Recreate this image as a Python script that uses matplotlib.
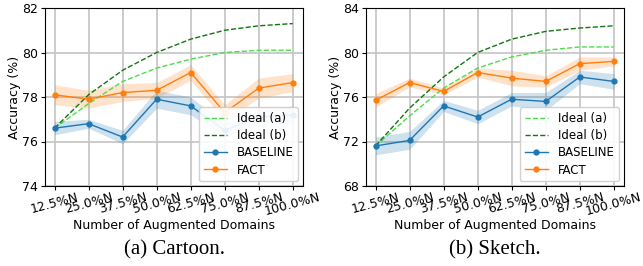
import matplotlib.pyplot as plt

labels = ["12.5%N", "25.0%N", "37.5%N", "50.0%N", "62.5%N", "75.0%N", "87.5%N", "100.0%N"]

# Cartoon
cartoon_base = [76.6, 76.8, 76.2, 77.9, 77.6, 76.5, 77.1, 77.2]
cartoon_base_std = [0.3, 0.2, 0.3, 0.4, 0.4, 0.3, 0.3, 0.4]
cartoon_fact = [78.1, 77.9, 78.2, 78.3, 79.1, 77.3, 78.4, 78.65]
cartoon_fact_std = [0.45, 0.4, 0.4, 0.35, 0.35, 0.35, 0.45, 0.4]
cartoon_ideal_a = [76.6, 77.7, 78.7, 79.3, 79.7, 80.0, 80.1, 80.1]
cartoon_ideal_b = [76.6, 78.1, 79.2, 80.0, 80.6, 81.0, 81.2, 81.3]

# Sketch
sketch_base = [71.6, 72.1, 75.2, 74.2, 75.8, 75.6, 77.8, 77.4]
sketch_base_std = [0.8, 0.8, 0.5, 0.6, 0.6, 0.8, 0.6, 0.7]
sketch_fact = [75.7, 77.3, 76.5, 78.2, 77.7, 77.4, 79.0, 79.2]
sketch_fact_std = [0.6, 0.4, 0.3, 0.4, 0.7, 0.5, 0.6, 0.4]
sketch_ideal_a = [71.6, 74.3, 76.8, 78.6, 79.6, 80.2, 80.5, 80.5]
sketch_ideal_b = [71.6, 75.0, 77.8, 80.0, 81.2, 81.9, 82.2, 82.4]

panels = [
    ("(a) Cartoon.", cartoon_base, cartoon_base_std, cartoon_fact, cartoon_fact_std,
     cartoon_ideal_a, cartoon_ideal_b, (74, 82), [74, 76, 78, 80, 82]),
    ("(b) Sketch.", sketch_base, sketch_base_std, sketch_fact, sketch_fact_std,
     sketch_ideal_a, sketch_ideal_b, (68, 84), [68, 72, 76, 80, 84]),
]

fig = plt.figure(figsize=(6.43, 2.66), dpi=100)
lefts = [45 / 643, 366 / 643]
w = 258 / 643
bottom = 1 - 186 / 266
h = 178 / 266

x = list(range(len(labels)))
for i, (cap, base, bstd, fact, fstd, ia, ib, ylim, yt) in enumerate(panels):
    ax = fig.add_axes([lefts[i], bottom, w, h])
    ax.grid(True, color="#c4c4c4", linewidth=1.2)
    ax.set_axisbelow(True)
    ax.plot(x, ia, "--", color="#4cdd4c", linewidth=1.0, label="Ideal (a)")
    ax.plot(x, ib, "--", color="#117711", linewidth=1.0, label="Ideal (b)")
    ax.fill_between(x, [m - s for m, s in zip(base, bstd)], [m + s for m, s in zip(base, bstd)],
                    color="#1f77b4", alpha=0.22, linewidth=0)
    ax.fill_between(x, [m - s for m, s in zip(fact, fstd)], [m + s for m, s in zip(fact, fstd)],
                    color="#ff7f0e", alpha=0.22, linewidth=0)
    ax.plot(x, base, "-o", color="#1f77b4", markersize=3.5, linewidth=1.0, label="BASELINE")
    ax.plot(x, fact, "-o", color="#ff7f0e", markersize=3.5, linewidth=1.0, label="FACT")
    ax.set_ylim(*ylim)
    ax.set_yticks(yt)
    ax.set_xlim(-0.28, 7.3)
    ax.set_xticks(x)
    ax.set_xticklabels(labels, rotation=15, ha="center", fontsize=9)
    ax.tick_params(axis="y", labelsize=9, length=3, pad=2)
    ax.tick_params(axis="x", length=3, pad=0)
    ax.set_ylabel("Accuracy (%)", fontsize=9, labelpad=1)
    ax.set_xlabel("Number of Augmented Domains", fontsize=9, labelpad=1)
    ax.legend(loc="lower right", fontsize=8.5, framealpha=0.9, borderpad=0.4,
              labelspacing=0.35, handlelength=2.0, borderaxespad=0.4)
    fig.text(lefts[i] + w / 2, 1 - 250 / 266, cap, ha="center", va="center",
             fontsize=15, family="Liberation Serif")

fig.savefig("out.png", dpi=100)
